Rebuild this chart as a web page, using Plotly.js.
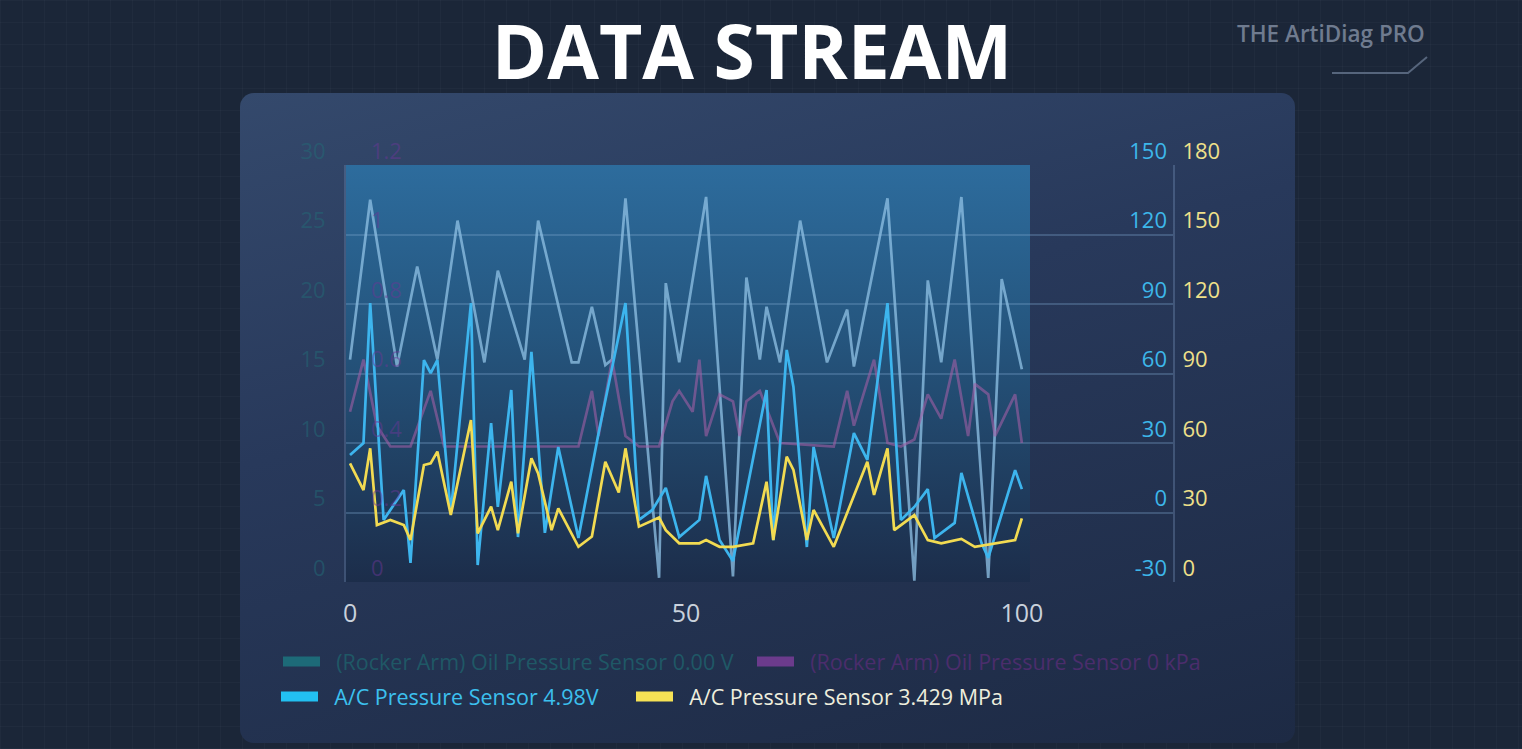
<!DOCTYPE html>
<html><head><meta charset="utf-8">
<script src="https://cdn.plot.ly/plotly-3.0.1.min.js"></script>
<style>
html,body{margin:0;padding:0;width:1522px;height:749px;overflow:hidden;background:#1b2638;}
#bg{position:absolute;left:0;top:0;width:1522px;height:749px;background-color:#1b2638;
 background-image:linear-gradient(rgba(255,255,255,0.022) 1px,transparent 1px),linear-gradient(90deg,rgba(255,255,255,0.022) 1px,transparent 1px);
 background-size:22px 22px;}
#card{position:absolute;left:240px;top:93px;width:1055px;height:650px;border-radius:14px;
 background:linear-gradient(165deg,#34496c 0%,#28395b 40%,#1d2a44 100%);}
#shade{position:absolute;left:346px;top:165px;width:684px;height:417px;
 background:linear-gradient(180deg,#2d6c9d 0%,#25567f 40%,#1c2d4a 100%);}
#chart{position:absolute;left:0;top:0;width:1522px;height:749px;}
</style></head><body>
<div id="bg"></div><div id="card"></div><div id="shade"></div><div id="chart"></div>
<script>
// ---- data ----
const chartTitle = 'DATA STREAM';
const watermark = 'THE ArtiDiag PRO';
const seriesNames = [
  '(Rocker Arm) Oil Pressure Sensor 0.00 V',
  '(Rocker Arm) Oil Pressure Sensor 0 kPa',
  'A/C Pressure Sensor 4.98V',
  'A/C Pressure Sensor 3.429 MPa'
];
const xTickVals = [0, 50, 100];
const voltTicks = [0, 5, 10, 15, 20, 25, 30];
const kpaTicks = [0, 0.2, 0.4, 0.6, 0.8, 1, 1.2];
const acVoltTicks = [-30, 0, 30, 60, 90, 120, 150];
const acMpaTicks = [0, 30, 60, 90, 120, 150, 180];

const oilVoltX = [0,3,7,10,13,16,20,22,26,28,33,34,36,38,39,41,46,47,49,53,57,59,61,62,64,67,71,74,75,80,84,86,88,91,95,97,100];
const oilVoltY = [16.0,27.5,15.5,22.7,16.0,26.0,15.8,22.4,16.0,26.0,15.8,15.8,19.8,15.6,16.0,27.6,0.3,21.5,15.8,27.7,0.4,21.9,16.0,19.8,15.8,26.0,15.8,19.6,15.5,27.6,0.1,21.7,15.8,27.7,0.3,21.8,15.3];

const oilKpaX = [0,2,4,6,9,12,14,33,34,36,37,39,41,43,46,48,49,51,52,53,55,57,58,59,61,64,72,74,75,78,80,82,84,86,88,90,92,93,95,96,99,100];
const oilKpaY = [0.49,0.64,0.45,0.39,0.39,0.55,0.39,0.39,0.39,0.55,0.42,0.64,0.42,0.39,0.39,0.52,0.55,0.49,0.64,0.42,0.54,0.52,0.42,0.52,0.55,0.40,0.39,0.55,0.45,0.64,0.40,0.39,0.41,0.54,0.47,0.64,0.42,0.57,0.54,0.42,0.54,0.40];

const acVoltX = [0,2,3,5,8,9,11,12,13,15,18,19,21,22,24,25,27,29,31,34,37,41,43,45,47,49,52,53,55,57,62,63,65,66,68,69,72,75,77,80,82,84,86,87,90,91,94,95,99,100];
const acVoltY = [24.8,30.0,90.4,-3.2,9.7,-21.8,65.8,60.2,65.8,-0.2,90.4,-22.7,38.6,2.4,52.9,-10.6,69.3,-8.8,28.3,-11.0,34.3,90.4,-3.2,1.1,10.6,-10.6,-3.2,15.8,-11.9,-20.9,52.9,-11.9,70.2,54.2,-14.9,28.3,-11.0,34.3,22.7,90.4,-3.2,2.4,10.1,-11.0,-4.5,17.1,-13.2,-19.6,18.3,10.1];

const acMpaX = [0,2,3,4,6,8,9,11,12,13,15,18,19,21,22,24,25,27,28,30,31,34,36,38,40,41,43,46,47,49,52,53,55,57,60,62,63,65,66,68,69,72,77,78,80,81,84,86,88,91,93,96,99,100];
const acMpaY = [51.2,39.7,57.7,24.6,26.8,24.6,18.1,50.5,51.2,56.3,28.9,69.9,21.0,32.5,22.4,43.3,21.0,53.4,46.9,22.4,31.8,15.2,19.6,51.9,38.6,57.7,23.9,27.8,22.4,16.7,16.7,18.1,15.2,15.2,16.7,43.3,18.1,54.1,48.4,18.1,31.1,15.2,51.9,37.6,57.7,22.4,28.9,18.1,16.7,18.6,15.2,16.7,18.1,27.5];

// ---- styling ----
const lineColors = ['rgba(140,190,225,0.78)','rgba(160,95,165,0.6)','#3db5ee','#f2db52'];
const legendBox = ['#1d6a78','#6b3b8c','#22c0f2','#f6e255'];
const legendText = ['#1f5866','#4b2d6c','#3cc0ee','#eeeedd'];
const legendIds = ['legend','legend2','legend3','legend4'];
// legend anchor points in pixels [left, top]
const legendPos = [[278,641],[752,641],[276,676],[631,676]];

// plot area in pixels: x 346..1173, y 165..582
const PL=346, PR=1173, PT=165, PB=582;
const px = p => (p-PL)/(PR-PL);
const py = p => (PB-p)/(PB-PT);

const baseFont = {family:'Open Sans, sans-serif'};
function lineTrace(x,y,i,ax){
  return {x:x,y:y,type:'scatter',mode:'lines',yaxis:ax,showlegend:false,hoverinfo:'skip',
          line:{color:lineColors[i],width:2.7}};
}
function legendTrace(i){
  return {x:[null],y:[null],type:'scatter',mode:'lines',legend:legendIds[i],hoverinfo:'skip',
          name:'<span style="color:'+legendText[i]+'">&nbsp;&nbsp;'+seriesNames[i]+'</span>',
          line:{color:legendBox[i],width:10}};
}
const data = [
  lineTrace(oilVoltX,oilVoltY,0,'y'),
  lineTrace(oilKpaX,oilKpaY,1,'y2'),
  lineTrace(acVoltX,acVoltY,2,'y3'),
  lineTrace(acMpaX,acMpaY,3,'y4'),
  legendTrace(0),legendTrace(1),legendTrace(2),legendTrace(3)
];
const shift = -14;
const layout = {
  width:1522,height:749,autosize:false,
  margin:{l:PL,r:1522-PR,t:PT,b:749-PB,pad:0},
  paper_bgcolor:'rgba(0,0,0,0)',plot_bgcolor:'rgba(0,0,0,0)',
  font:baseFont,
  title:{text:chartTitle,font:{family:'Open Sans, sans-serif',size:75,color:'#ffffff',weight:700},
         x:752/1522,xanchor:'center',xref:'container',y:1-53/749,yanchor:'middle',yref:'container'},
  xaxis:{range:[-0.6,122.5],tickmode:'array',tickvals:xTickVals,showgrid:false,zeroline:false,showline:false,
         ticks:'',tickfont:{size:25,color:'#c9d1dc'},ticklabelstandoff:14},
  yaxis:{range:[0,30],tickmode:'array',tickvals:voltTicks,ticktext:voltTicks.map(String),side:'left',
         showgrid:true,gridcolor:'rgba(125,165,205,0.32)',gridwidth:2,
         zeroline:false,showline:true,linecolor:'rgba(120,150,190,0.3)',linewidth:2,ticks:'',
         tickfont:{size:22,color:'rgba(35,105,118,0.55)'},ticklabelshift:shift,ticklabelstandoff:14},
  yaxis2:{range:[0,1.2],tickmode:'array',tickvals:kpaTicks,ticktext:kpaTicks.map(String),
         overlaying:'y',side:'right',anchor:'free',position:0,showgrid:false,
         zeroline:false,showline:false,ticks:'',tickfont:{size:22,color:'rgba(105,55,150,0.5)'},
         ticklabelshift:shift,ticklabelstandoff:24},
  yaxis3:{range:[-30,150],tickmode:'array',tickvals:acVoltTicks,ticktext:acVoltTicks.map(String),
         overlaying:'y',side:'left',anchor:'free',position:1,showgrid:false,
         zeroline:false,showline:false,ticks:'',tickfont:{size:22,color:'#3db7ea'},ticklabelshift:shift,ticklabelstandoff:6},
  yaxis4:{range:[0,180],tickmode:'array',tickvals:acMpaTicks,ticktext:acMpaTicks.map(String),
         overlaying:'y',side:'right',showgrid:false,zeroline:false,
         showline:true,linecolor:'rgba(120,150,190,0.35)',linewidth:2,ticks:'',
         tickfont:{size:22,color:'#efe08a'},ticklabelshift:shift,ticklabelstandoff:3},
  annotations:[{text:watermark,xref:'paper',yref:'paper',x:px(1331),y:py(34),xanchor:'center',yanchor:'middle',
          showarrow:false,font:{size:22.5,color:'#6f7b8f',weight:600}}],
  shapes:[{type:'path',xref:'paper',yref:'paper',
          path:'M'+px(1332)+','+py(73)+' L'+px(1408)+','+py(73)+' L'+px(1427)+','+py(57),
          line:{color:'#56657c',width:2}}]
};
legendIds.forEach((id,i)=>{
  layout[id] = {orientation:'h',x:px(legendPos[i][0]),xanchor:'left',y:py(legendPos[i][1]),yanchor:'top',
    bgcolor:'rgba(0,0,0,0)',font:{size:21.5,family:'Open Sans, sans-serif'},itemwidth:37,tracegroupgap:0};
});
Plotly.newPlot('chart',data,layout,{staticPlot:true,displayModeBar:false});
</script>
</body></html>
